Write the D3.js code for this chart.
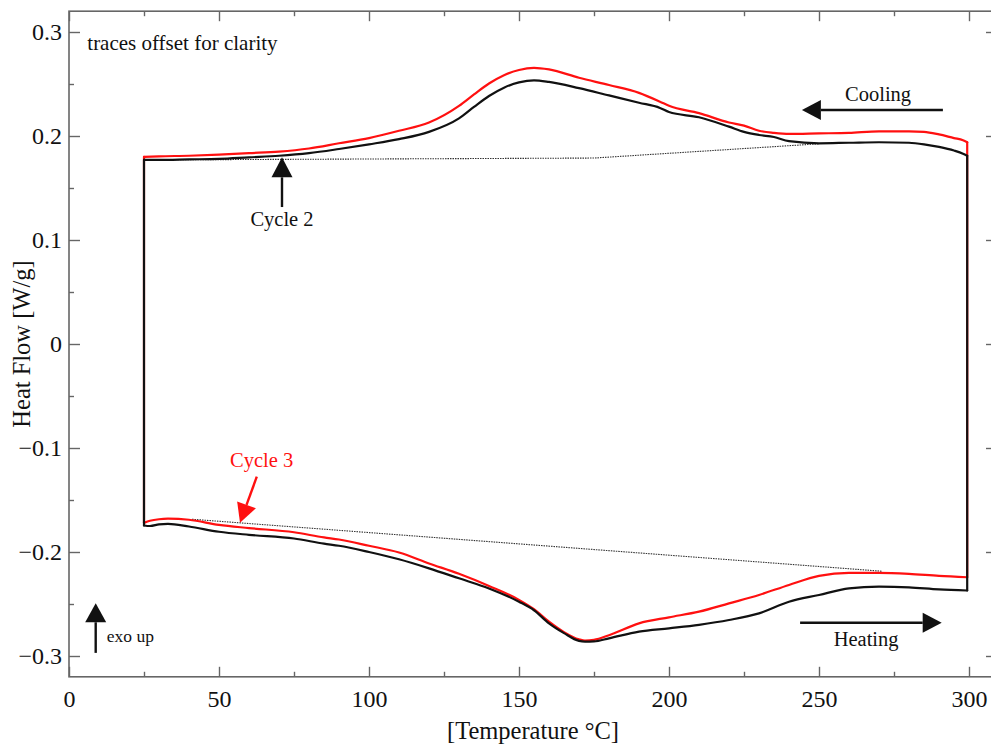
<!DOCTYPE html>
<html><head><meta charset="utf-8">
<script src="https://cdn.jsdelivr.net/npm/d3@7"></script>
<style>
html,body{margin:0;padding:0;background:#fff;}
svg{display:block;}
text{font-family:"Liberation Serif","DejaVu Serif",serif;}
</style></head>
<body>
<svg id="chart" width="991" height="746"></svg>
<script>
// ---------- data ----------
const coolTemps = [25, 30, 40, 50, 60, 70, 80, 90, 100, 110, 120, 130, 135, 140, 145, 150, 155, 160, 170, 180, 190, 197, 200, 210, 220, 225, 230, 235, 240, 250, 260, 270, 280, 285, 290, 295, 298, 299.4];
const coolBlack = [0.177, 0.177, 0.1775, 0.178, 0.1795, 0.181, 0.1835, 0.1875, 0.192, 0.197, 0.204, 0.217, 0.228, 0.2385, 0.2465, 0.2515, 0.2535, 0.252, 0.246, 0.239, 0.232, 0.227, 0.223, 0.218, 0.209, 0.204, 0.201, 0.199, 0.195, 0.193, 0.1935, 0.194, 0.1935, 0.192, 0.1895, 0.186, 0.183, 0.181];
const coolRed   = [0.180, 0.1805, 0.181, 0.182, 0.1835, 0.185, 0.188, 0.193, 0.198, 0.205, 0.213, 0.229, 0.240, 0.2505, 0.2585, 0.2635, 0.2655, 0.264, 0.256, 0.249, 0.2415, 0.233, 0.229, 0.222, 0.213, 0.210, 0.205, 0.203, 0.202, 0.2025, 0.203, 0.2045, 0.2045, 0.204, 0.2015, 0.198, 0.196, 0.194];

const heatTemps = [25, 27, 30, 33, 40, 50, 60, 75, 85, 90, 100, 110, 120, 130, 140, 150, 155, 160, 165, 170, 172, 175, 180, 190, 200, 210, 220, 230, 240, 250, 260, 270, 280, 290, 299.4];
const heatBlack = [-0.1745, -0.175, -0.1735, -0.173, -0.1755, -0.1805, -0.1835, -0.187, -0.192, -0.194, -0.2, -0.207, -0.2157, -0.2253, -0.235, -0.2478, -0.256, -0.2686, -0.278, -0.2855, -0.2862, -0.286, -0.283, -0.2766, -0.2734, -0.270, -0.2654, -0.259, -0.2478, -0.2413, -0.235, -0.2333, -0.234, -0.236, -0.237];
const heatRed   = [-0.172, -0.170, -0.1685, -0.168, -0.169, -0.174, -0.177, -0.181, -0.186, -0.188, -0.194, -0.2005, -0.211, -0.221, -0.2327, -0.246, -0.255, -0.267, -0.277, -0.284, -0.2853, -0.2845, -0.280, -0.2686, -0.2628, -0.2574, -0.2494, -0.2413, -0.2317, -0.223, -0.220, -0.220, -0.221, -0.223, -0.2243];

const baseTopT = [27, 175, 250];
const baseTopV = [0.177, 0.1788, 0.1925];
const baseBotT = [41, 271];
const baseBotV = [-0.1685, -0.2185];

const xMajorTicks = [0, 50, 100, 150, 200, 250, 300];
const xMinorTicks = [25, 75, 125, 175, 225, 275];
const yMajorTicks = [-0.3, -0.2, -0.1, 0, 0.1, 0.2, 0.3];
const yMinorTicks = [-0.25, -0.15, -0.05, 0.05, 0.15, 0.25];

// ---------- layout ----------
const svg = d3.select("#chart");
const L = 69, R = 996, T = 11.2, B = 676.8;
const x = d3.scaleLinear().domain([0, 309]).range([L, R]);
const y = d3.scaleLinear().domain([-0.32, 0.32]).range([B, T]);
const axisColor = "#666";

function styleAxis(g){
  g.select(".domain").remove();
  g.selectAll(".tick line").attr("stroke", axisColor).attr("stroke-width", 1.4);
  g.selectAll(".tick text").attr("fill", "#111").style("font-size", "24px")
    .style("font-family", '"Liberation Serif", serif');
}
const fmtY = d => d === 0 ? "0" : d3.format(".1f")(d);

// bottom
svg.append("g").attr("transform", `translate(0,${B})`)
  .call(d3.axisBottom(x).tickValues(xMajorTicks).tickSize(-10).tickPadding(13).tickFormat(d3.format("d")))
  .call(styleAxis);
svg.append("g").attr("transform", `translate(0,${B})`)
  .call(d3.axisBottom(x).tickValues(xMinorTicks).tickSize(-5).tickFormat(""))
  .call(styleAxis);
// top
svg.append("g").attr("transform", `translate(0,${T})`)
  .call(d3.axisTop(x).tickValues(xMajorTicks).tickSize(-10).tickFormat(""))
  .call(styleAxis);
svg.append("g").attr("transform", `translate(0,${T})`)
  .call(d3.axisTop(x).tickValues(xMinorTicks).tickSize(-5).tickFormat(""))
  .call(styleAxis);
// left
svg.append("g").attr("transform", `translate(${L},0)`)
  .call(d3.axisLeft(y).tickValues(yMajorTicks).tickSize(-11).tickPadding(7).tickFormat(fmtY))
  .call(styleAxis);
svg.append("g").attr("transform", `translate(${L},0)`)
  .call(d3.axisLeft(y).tickValues(yMinorTicks).tickSize(-5).tickFormat(""))
  .call(styleAxis);
// right
svg.append("g").attr("transform", `translate(${R},0)`)
  .call(d3.axisRight(y).tickValues(yMajorTicks).tickSize(-10).tickFormat(""))
  .call(styleAxis);
svg.append("g").attr("transform", `translate(${R},0)`)
  .call(d3.axisRight(y).tickValues(yMinorTicks).tickSize(-5).tickFormat(""))
  .call(styleAxis);

// frame
svg.append("rect").attr("x", L).attr("y", T).attr("width", R - L).attr("height", B - T)
  .attr("fill", "none").attr("stroke", axisColor).attr("stroke-width", 1.6);

// axis titles
svg.append("text").attr("x", 533).attr("y", 739).attr("text-anchor", "middle")
  .style("font-size", "24.5px").attr("fill", "#111").text("[Temperature °C]");
svg.append("text").attr("transform", `translate(30,${(T + B) / 2}) rotate(-90)`)
  .attr("text-anchor", "middle").style("font-size", "24.5px").attr("fill", "#111")
  .text("Heat Flow [W/g]");

// ---------- baselines ----------
const line = d3.line().x(d => x(d[0])).y(d => y(d[1]));
const smooth = d3.line().x(d => x(d[0])).y(d => y(d[1])).curve(d3.curveMonotoneX);
const zip = (a, b) => a.map((v, i) => [v, b[i]]);

[[baseTopT, baseTopV], [baseBotT, baseBotV]].forEach(([t, v]) => {
  svg.append("path").attr("d", line(zip(t, v))).attr("fill", "none")
    .attr("stroke", "#333").attr("stroke-width", 1.1).attr("stroke-dasharray", "1.5,1");
});

// ---------- loops ----------
function drawLoop(heatV, coolV, color){
  const g = svg.append("g").attr("fill", "none").attr("stroke", color)
    .attr("stroke-width", 2.2).attr("stroke-linecap", "round").attr("stroke-linejoin", "round");
  const heat = zip(heatTemps, heatV);
  const cool = zip(coolTemps, coolV);
  g.append("path").attr("d", smooth(heat));
  g.append("path").attr("d", smooth(cool));
  g.append("path").attr("d", line([cool[0], heat[0]]));
  g.append("path").attr("d", line([heat[heat.length - 1], cool[cool.length - 1]]));
}
drawLoop(heatRed, coolRed, "#ff1010");
drawLoop(heatBlack, coolBlack, "#111");

// ---------- annotations ----------
function arrow(t0, v0, t1, v1, color, headLen, headHalf){
  const x0 = x(t0), y0 = y(v0), x1 = x(t1), y1 = y(v1);
  const dx = x1 - x0, dy = y1 - y0, len = Math.hypot(dx, dy);
  const ux = dx / len, uy = dy / len, px = -uy, py = ux;
  const bx = x1 - ux * headLen, by = y1 - uy * headLen;
  svg.append("line").attr("x1", x0).attr("y1", y0).attr("x2", bx).attr("y2", by)
    .attr("stroke", color).attr("stroke-width", 2.4);
  svg.append("path")
    .attr("d", `M${x1},${y1}L${bx + px * headHalf},${by + py * headHalf}L${bx - px * headHalf},${by - py * headHalf}Z`)
    .attr("fill", color);
}
function label(t, v, txt, size, anchor, color){
  svg.append("text").attr("x", x(t)).attr("y", y(v)).attr("text-anchor", anchor)
    .style("font-size", size + "px").attr("fill", color).text(txt);
}

label(6.1, 0.2827, "traces offset for clarity", 21, "start", "#111");

arrow(291.3, 0.225, 244.3, 0.225, "#111", 19, 10);
label(269.7, 0.2335, "Cooling", 20.5, "middle", "#111");

arrow(243.7, -0.268, 290.9, -0.268, "#111", 19, 10);
label(265.7, -0.2905, "Heating", 20.5, "middle", "#111");

arrow(71, 0.1317, 71, 0.1795, "#111", 20, 10.5);
label(71, 0.1135, "Cycle 2", 20.5, "middle", "#111");

arrow(62.6, -0.1276, 57, -0.1718, "#ff1010", 19, 10);
label(64.2, -0.1185, "Cycle 3", 20.5, "middle", "#ff1010");

arrow(8.9, -0.297, 8.9, -0.2493, "#111", 19, 10.5);
label(12.6, -0.2865, "exo up", 17.5, "start", "#111");
</script>
</body></html>
